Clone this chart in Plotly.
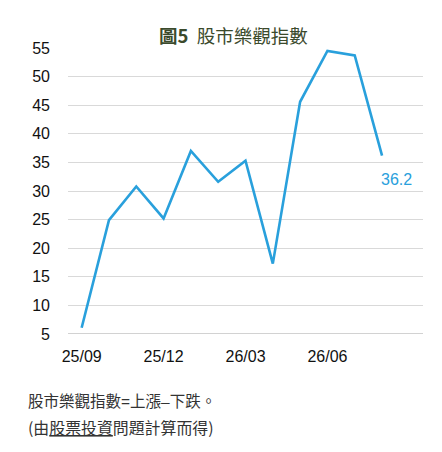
import plotly.graph_objects as go

# monthly optimism index
months = ["25/09", "25/10", "25/11", "25/12", "26/01", "26/02",
          "26/03", "26/04", "26/05", "26/06", "26/07", "26/08"]
index_values = [6.1, 24.9, 30.8, 25.2, 37.0, 31.6, 35.3, 17.3, 45.6, 54.5, 53.7, 36.2]
tick_months = ["25/09", "25/12", "26/03", "26/06"]
y_ticks = [5, 10, 15, 20, 25, 30, 35, 40, 45, 50, 55]

BLUE = "#29a0dc"
NUM_FONT = "Liberation Sans, Arial, sans-serif"
CJK_FONT = "Noto Sans CJK TC, Noto Sans CJK SC, sans-serif"
NARROW = "<span style='font-family:Liberation Sans'>{}</span>"

fig = go.Figure()
fig.add_trace(go.Scatter(
    x=months, y=index_values, mode="lines",
    line=dict(color=BLUE, width=2.6),
    hoverinfo="skip", showlegend=False,
))

# last value label
fig.add_annotation(
    x=months[-1], y=index_values[-1], text=f"{index_values[-1]:.1f}",
    showarrow=False, xshift=14, yshift=-24,
    font=dict(family=NUM_FONT, size=16, color=BLUE),
)

# title
fig.add_annotation(
    xref="paper", yref="paper", x=0.465, y=1.047, yanchor="middle",
    text="<b>圖5</b>  股市樂觀指數", showarrow=False,
    font=dict(family=CJK_FONT, size=18.5, color="#3b4a2c"),
)

# footnotes
line1 = "股市樂觀指數" + NARROW.format("=") + "上漲" + NARROW.format("–") + "下跌。"
fig.add_annotation(
    xref="paper", yref="paper", x=-0.118, y=-0.231, xanchor="left", yanchor="middle",
    text=line1, showarrow=False,
    font=dict(family=CJK_FONT, size=15.5, color="#333333"),
)
fig.add_annotation(
    xref="paper", yref="paper", x=-0.118, y=-0.327, xanchor="left", yanchor="middle",
    text="(由<u>股票投資</u>問題計算而得)", showarrow=False,
    font=dict(family=CJK_FONT, size=15.9, color="#333333"),
)

fig.update_xaxes(
    type="category", range=[-0.5, 12.5],
    tickmode="array", tickvals=tick_months, ticktext=tick_months,
    showgrid=False, showline=False, zeroline=False, ticks="",
    ticklabelstandoff=11,
    tickfont=dict(family=NUM_FONT, size=16, color="#111111"),
)
fig.update_yaxes(
    range=[5, 55], tickmode="array", tickvals=y_ticks,
    showgrid=True, gridcolor="#d9d9d9", gridwidth=1,
    zeroline=False, showline=False, ticks="",
    ticklabelstandoff=17,
    tickfont=dict(family=NUM_FONT, size=16, color="#111111"),
)

# darker baseline at 5
fig.add_shape(type="line", xref="paper", yref="y", x0=0, x1=1, y0=5, y1=5,
              line=dict(color="#a6a6a6", width=1.2))

# page body adds an 8px margin, so the figure is made 8px smaller
fig.update_layout(
    width=434, height=444,
    margin=dict(l=60, r=19, t=40, b=118),
    paper_bgcolor="white", plot_bgcolor="white",
)

fig.write_html("out.html")
